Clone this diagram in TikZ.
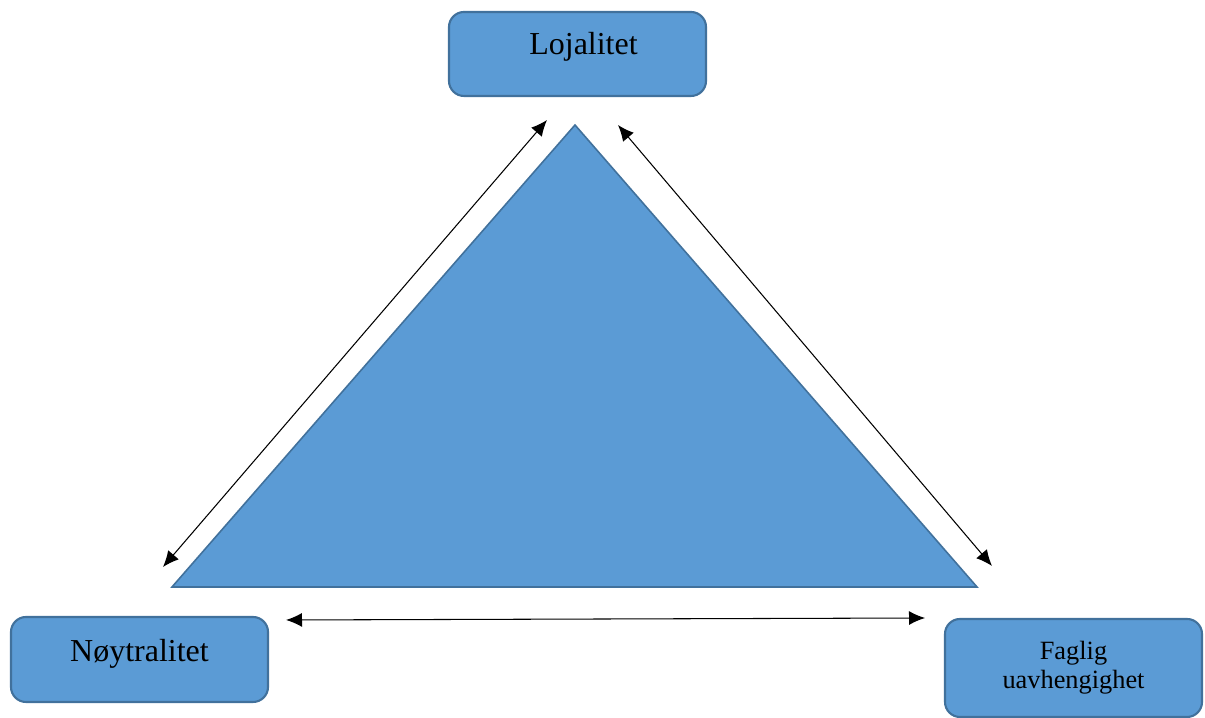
\documentclass[tikz,border=0pt]{standalone}
\usepackage{fontspec}
\setmainfont{Liberation Serif}
\usetikzlibrary{arrows.meta}
\definecolor{boxfill}{HTML}{5B9BD5}
\definecolor{boxline}{HTML}{41719C}
\begin{document}
\begin{tikzpicture}[
  box/.style={draw=boxline, line width=1.2pt, fill=boxfill, rounded corners=0.3cm,
              minimum width=5.14cm, inner sep=0pt, font=\fontsize{18.2}{20}\selectfont},
  link/.style={{Latex[length=0.32cm,width=0.28cm]}-{Latex[length=0.32cm,width=0.28cm]}, line width=0.6pt}]

\useasboundingbox (0,0) rectangle (24.1,14.36);

% the three boxes
\node[box, text height=0.86cm, text depth=0.82cm] (loj) at (11.55,13.28) {\hspace*{0.24cm}Lojalitet};
\node[box, text height=0.90cm, text depth=0.80cm] (noy) at (2.79,1.17) {Nøytralitet};
\node[box, minimum height=1.96cm, align=center, font=\fontsize{15}{16.5}\selectfont] (fag) at (21.47,1.0) {Faglig\\uavhengighet};

% triangle
\filldraw[draw=boxline, line width=0.9pt, fill=boxfill] (11.5,11.86) -- (3.44,2.62) -- (19.54,2.62) -- cycle;

% arrow ends
\coordinate (l1) at (3.26,3.02);
\coordinate (l2) at (10.94,11.96);
\coordinate (r1) at (12.36,11.86);
\coordinate (r2) at (19.84,3.04);
\coordinate (b1) at (5.72,1.96);
\coordinate (b2) at (18.5,2.0);

\draw[link] (l1) -- (l2);
\draw[link] (r1) -- (r2);
\draw[link] (b1) -- (b2);
\end{tikzpicture}
\end{document}
